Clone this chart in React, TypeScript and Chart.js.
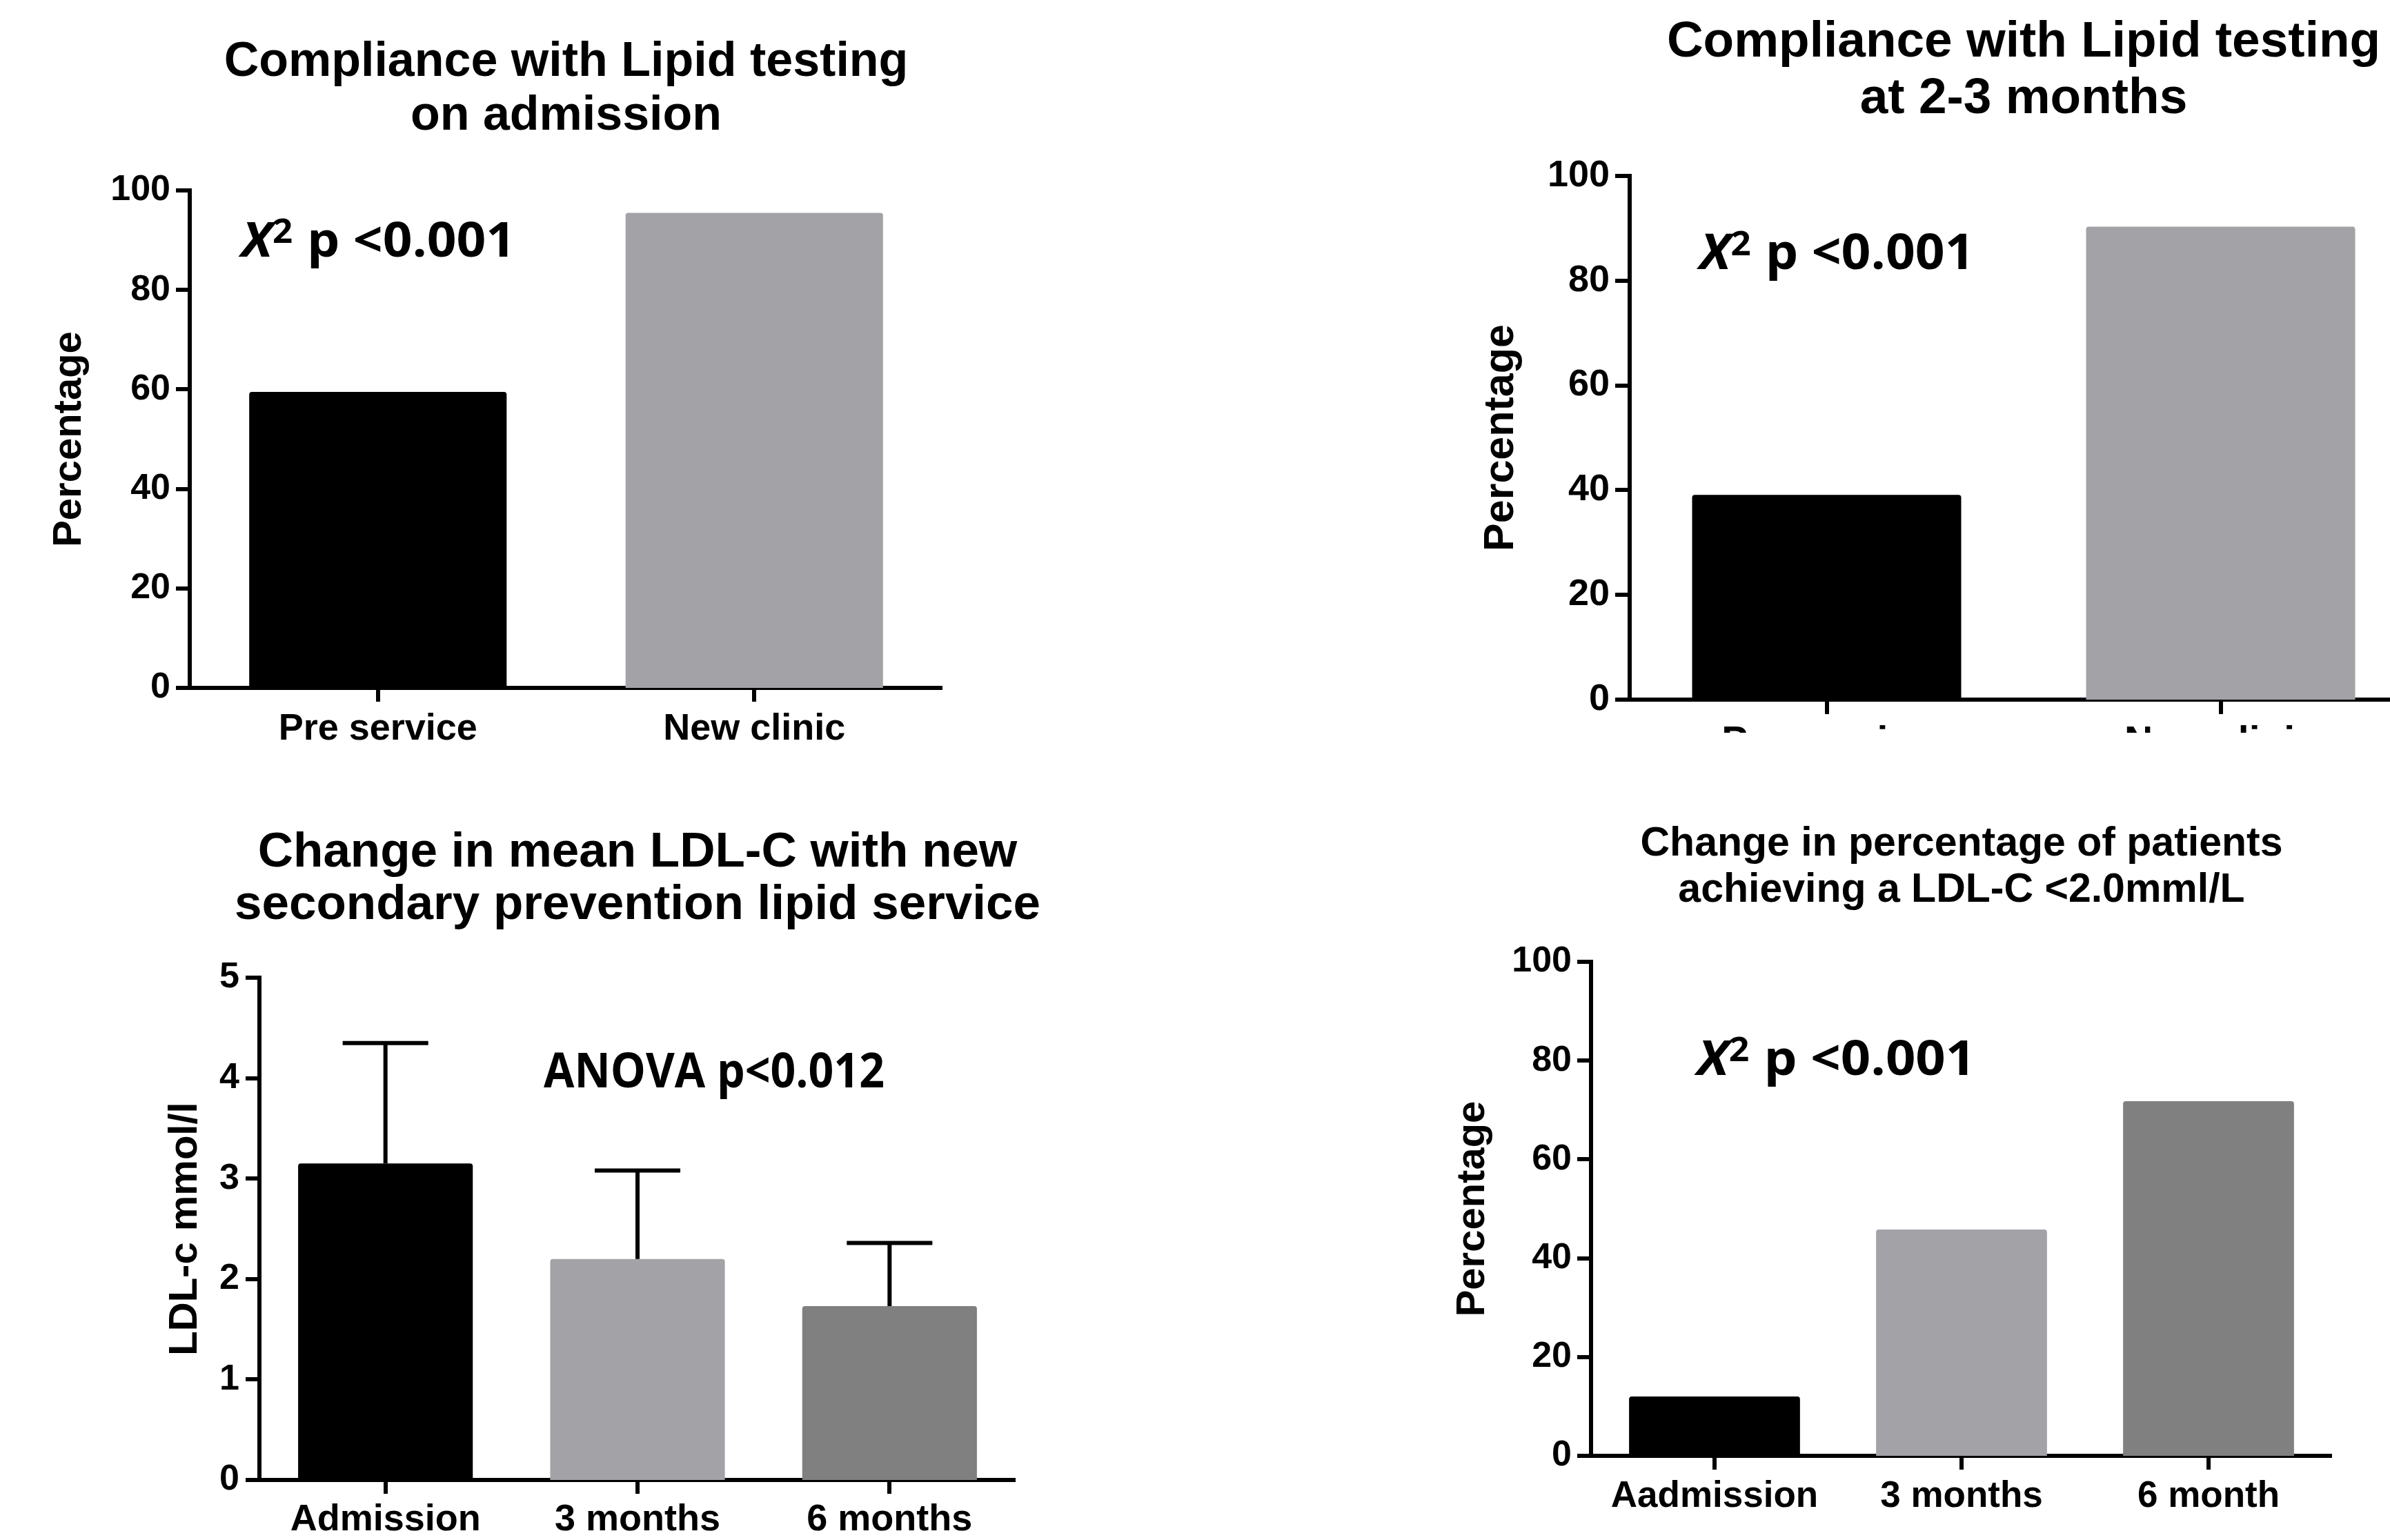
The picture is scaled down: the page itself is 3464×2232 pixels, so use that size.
import { useEffect, useRef } from 'react';
import { Chart, registerables } from 'chart.js';

Chart.register(...registerables);

// ---- data -------------------------------------------------------------
const admissionCategories = ['Pre service', 'New clinic'];
const admissionPercent = [59.5, 95.5];

const followUpCategories = ['Pre service', 'New clinic'];
const followUpPercent = [39.1, 90.3];

const ldlCategories = ['Admission', '3 months', '6 months'];
const ldlMean = [3.15, 2.2, 1.73];
const ldlSd = [1.2, 0.88, 0.63];

const targetCategories = ['Aadmission', '3 months', '6 month'];
const targetPercent = [12, 45.8, 71.8];

const admissionTitle = ['Compliance with Lipid testing', 'on admission'];
const followUpTitle = ['Compliance with Lipid testing', 'at 2-3 months'];
const ldlTitle = ['Change in mean LDL-C with new', 'secondary prevention lipid service'];
const targetTitle = ['Change in percentage of patients', 'achieving a LDL-C <2.0mml/L'];

type NotePart = { text: string; italic?: boolean; sup?: boolean };
const chiSquareNote: NotePart[] = [{ text: 'X', italic: true }, { text: '2', sup: true }, { text: ' p <0.001' }];
const anovaNote: NotePart[] = [{ text: 'ANOVA p<0.012' }];

// ---- styling ----------------------------------------------------------
const BLACK = '#000000';
const LIGHT_GREY = '#a3a2a7';
const DARK_GREY = '#808080';
const ARIAL = '"Liberation Sans", Arial, Helvetica, sans-serif';
const NOTE_FONT = '"Open Sans", Lato, sans-serif';

interface PanelSpec {
  box: { left: number; top: number; width: number; height: number };
  area: { left: number; right: number; top: number; bottom: number };
  categories: string[];
  values: number[];
  colors: string[];
  yMax: number;
  yStep: number;
  yTitle: string;
  yTitleFont: number;
  yTitleOffset: number;
  xFont: number;
  xPad: number;
  yFont: number;
  yPad: number;
  tickLength: number;
  axisWidth: number;
  barFraction: number;
  title: { lines: string[]; size: number; baselines: number[] };
  note: { parts: NotePart[]; size: number; width: number; x: number; y: number };
  errors?: number[];
}

const panels: PanelSpec[] = [
  {
    box: { left: 0, top: 0, width: 1420, height: 1116 },
    area: { left: 275, right: 1366, top: 276, bottom: 997 },
    categories: admissionCategories,
    values: admissionPercent,
    colors: [BLACK, LIGHT_GREY],
    yMax: 100,
    yStep: 20,
    yTitle: 'Percentage',
    yTitleFont: 58,
    yTitleOffset: 66,
    xFont: 54,
    xPad: 8,
    yFont: 52,
    yPad: 8,
    tickLength: 20,
    axisWidth: 6,
    barFraction: 0.684,
    title: { lines: admissionTitle, size: 70, baselines: [110, 188] },
    note: { parts: chiSquareNote, size: 70, width: 390, x: -0.371, y: 86.7 },
  },
  {
    box: { left: 2100, top: 0, width: 1420, height: 1062 },
    area: { left: 262, right: 1404, top: 255, bottom: 1014 },
    categories: followUpCategories,
    values: followUpPercent,
    colors: [BLACK, LIGHT_GREY],
    yMax: 100,
    yStep: 20,
    yTitle: 'Percentage',
    yTitleFont: 61,
    yTitleOffset: 40,
    xFont: 57,
    xPad: 8,
    yFont: 54,
    yPad: 8,
    tickLength: 21,
    axisWidth: 6,
    barFraction: 0.683,
    title: { lines: followUpTitle, size: 73, baselines: [82, 164] },
    note: { parts: chiSquareNote, size: 72, width: 392, x: -0.332, y: 82.2 },
  },
  {
    box: { left: 0, top: 1116, width: 1520, height: 1116 },
    area: { left: 376, right: 1472, top: 301, bottom: 1029 },
    categories: ldlCategories,
    values: ldlMean,
    colors: [BLACK, LIGHT_GREY, DARK_GREY],
    yMax: 5,
    yStep: 1,
    yTitle: 'LDL-c mmol/l',
    yTitleFont: 58,
    yTitleOffset: 234,
    xFont: 54,
    xPad: 6,
    yFont: 52,
    yPad: 9,
    tickLength: 20,
    axisWidth: 6,
    barFraction: 0.693,
    title: { lines: ldlTitle, size: 71, baselines: [140, 216] },
    note: { parts: anovaNote, size: 70, width: 492, x: 0.628, y: 3.908 },
    errors: ldlSd,
  },
  {
    box: { left: 2000, top: 1116, width: 1464, height: 1116 },
    area: { left: 306, right: 1380, top: 278, bottom: 994 },
    categories: targetCategories,
    values: targetPercent,
    colors: [BLACK, LIGHT_GREY, DARK_GREY],
    yMax: 100,
    yStep: 20,
    yTitle: 'Percentage',
    yTitleFont: 58,
    yTitleOffset: 100,
    xFont: 53,
    xPad: 8,
    yFont: 52,
    yPad: 8,
    tickLength: 20,
    axisWidth: 6,
    barFraction: 0.692,
    title: { lines: targetTitle, size: 59, baselines: [124, 191] },
    note: { parts: chiSquareNote, size: 70, width: 396, x: -0.083, y: 77.1 },
  },
];

// ---- plugins ----------------------------------------------------------
function titlePlugin(p: PanelSpec) {
  return {
    id: 'panelTitle',
    afterDraw(chart: any) {
      const { ctx, chartArea } = chart;
      const cx = (chartArea.left + chartArea.right) / 2;
      ctx.save();
      ctx.fillStyle = BLACK;
      ctx.font = `bold ${p.title.size}px ${ARIAL}`;
      ctx.textAlign = 'center';
      ctx.textBaseline = 'alphabetic';
      p.title.lines.forEach((line, i) => ctx.fillText(line, cx, p.title.baselines[i]));
      ctx.restore();
    },
  };
}

function notePlugin(p: PanelSpec) {
  return {
    id: 'statNote',
    afterDraw(chart: any) {
      const { ctx, scales } = chart;
      const { parts, size, width } = p.note;
      const x0 = scales.x.getPixelForValue(p.note.x);
      const y0 = scales.y.getPixelForValue(p.note.y);
      const supSize = size * 0.68;
      const fontOf = (part: NotePart) =>
        `${part.italic ? 'italic ' : ''}bold ${part.sup ? supSize : size}px ${NOTE_FONT}`;
      ctx.save();
      ctx.textAlign = 'left';
      ctx.textBaseline = 'alphabetic';
      // measure the ink extent of the whole note so it can be fitted to its width
      let cursor = 0;
      let inkLeft = 0;
      let inkRight = 0;
      const offsets: number[] = [];
      parts.forEach((part, i) => {
        ctx.font = fontOf(part);
        const m = ctx.measureText(part.text);
        if (i === 0) inkLeft = -m.actualBoundingBoxLeft;
        offsets.push(cursor);
        inkRight = cursor + m.actualBoundingBoxRight;
        cursor += m.width + (part.sup ? size * 0.02 : 0);
      });
      const sx = width / (inkRight - inkLeft);
      ctx.translate(x0 - inkLeft * sx, y0);
      ctx.scale(sx, 1);
      ctx.fillStyle = BLACK;
      parts.forEach((part, i) => {
        ctx.font = fontOf(part);
        const dy = part.sup ? -(size * 0.23 + 4) : 0;
        ctx.fillText(part.text, offsets[i], dy);
      });
      ctx.restore();
    },
  };
}

function errorBarPlugin(p: PanelSpec) {
  return {
    id: 'upperErrorBars',
    afterDatasetsDraw(chart: any) {
      if (!p.errors) return;
      const { ctx, scales } = chart;
      const meta = chart.getDatasetMeta(0);
      ctx.save();
      ctx.strokeStyle = BLACK;
      ctx.lineWidth = p.axisWidth;
      ctx.lineCap = 'butt';
      meta.data.forEach((bar: any, i: number) => {
        const { x, y, width } = bar.getProps(['x', 'y', 'width'], true);
        const top = scales.y.getPixelForValue(p.values[i] + p.errors![i]);
        const half = width * 0.245;
        ctx.beginPath();
        ctx.moveTo(x, y);
        ctx.lineTo(x, top);
        ctx.moveTo(x - half, top);
        ctx.lineTo(x + half, top);
        ctx.stroke();
      });
      ctx.restore();
    },
  };
}

function buildConfig(p: PanelSpec): any {
  const axisGrid = {
    display: true,
    drawOnChartArea: false,
    drawTicks: true,
    tickLength: p.tickLength,
    tickWidth: p.axisWidth,
    tickColor: BLACK,
    lineWidth: 0,
  };
  const axisBorder = { display: true, color: BLACK, width: p.axisWidth };
  return {
    type: 'bar',
    data: {
      labels: p.categories,
      datasets: [
        {
          data: p.values,
          backgroundColor: p.colors,
          borderWidth: 0,
          borderRadius: { topLeft: 4, topRight: 4, bottomLeft: 0, bottomRight: 0 },
          borderSkipped: 'start',
          categoryPercentage: 1,
          barPercentage: p.barFraction,
        },
      ],
    },
    options: {
      responsive: false,
      animation: false,
      devicePixelRatio: 1,
      events: [],
      layout: {
        padding: { left: 0, top: p.area.top, right: p.box.width - p.area.right, bottom: 0 },
      },
      plugins: {
        legend: { display: false },
        tooltip: { enabled: false },
        title: { display: false },
      },
      scales: {
        x: {
          type: 'category',
          offset: true,
          z: 1,
          grid: { ...axisGrid, offset: false },
          border: axisBorder,
          ticks: {
            color: BLACK,
            font: { family: ARIAL, weight: 'bold', size: p.xFont, lineHeight: 1.2 },
            padding: p.xPad,
            maxRotation: 0,
            minRotation: 0,
            autoSkip: false,
          },
          afterFit: (s: any) => {
            s.height = p.box.height - p.area.bottom;
          },
        },
        y: {
          type: 'linear',
          min: 0,
          max: p.yMax,
          z: 1,
          grid: axisGrid,
          border: axisBorder,
          ticks: {
            stepSize: p.yStep,
            color: BLACK,
            font: { family: ARIAL, weight: 'bold', size: p.yFont, lineHeight: 1.2 },
            padding: p.yPad,
          },
          title: {
            display: true,
            text: p.yTitle,
            color: BLACK,
            font: { family: ARIAL, weight: 'bold', size: p.yTitleFont, lineHeight: 1.2 },
            padding: { top: p.yTitleOffset, bottom: 0 },
          },
          afterFit: (s: any) => {
            s.width = p.area.left;
          },
        },
      },
    },
    plugins: [titlePlugin(p), errorBarPlugin(p), notePlugin(p)],
  };
}

function Panel({ spec }: { spec: PanelSpec }) {
  const ref = useRef<HTMLCanvasElement>(null);
  useEffect(() => {
    if (!ref.current) return;
    const chart = new Chart(ref.current, buildConfig(spec));
    return () => chart.destroy();
  }, [spec]);
  return (
    <div
      style={{
        position: 'absolute',
        left: spec.box.left,
        top: spec.box.top,
        width: spec.box.width,
        height: spec.box.height,
        overflow: 'hidden',
      }}
    >
      <canvas
        ref={ref}
        width={spec.box.width}
        height={spec.box.height}
        style={{ width: spec.box.width, height: spec.box.height }}
      />
    </div>
  );
}

export default function App() {
  return (
    <div
      style={{
        position: 'absolute',
        left: 0,
        top: 0,
        width: 3464,
        height: 2232,
        overflow: 'hidden',
        background: '#ffffff',
      }}
    >
      {panels.map((spec, i) => (
        <Panel key={i} spec={spec} />
      ))}
    </div>
  );
}
